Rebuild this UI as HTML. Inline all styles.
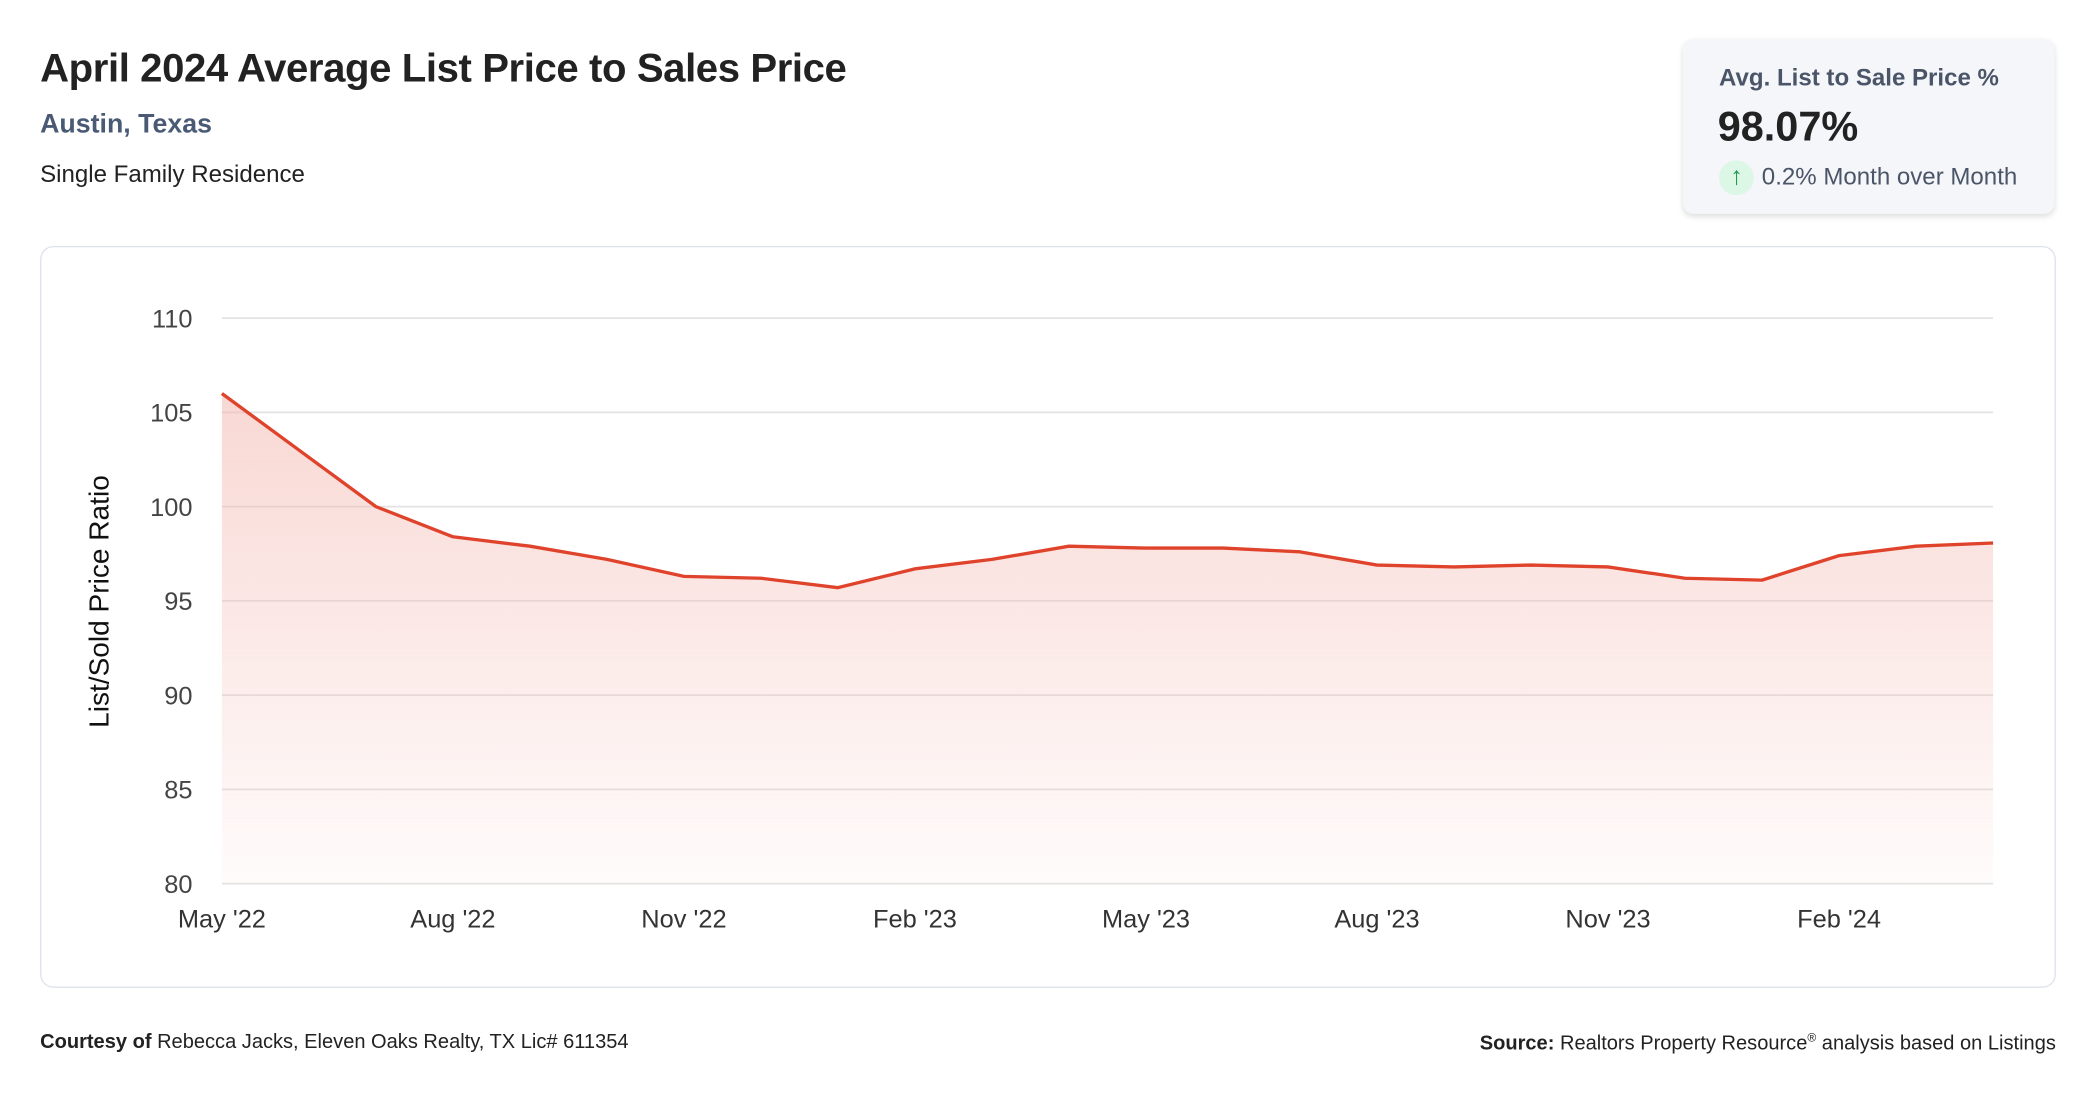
<!DOCTYPE html>
<html><head><meta charset="utf-8"><style>
html,body{margin:0;padding:0;background:#fff;width:2096px;height:1100px;overflow:hidden;}
#wrap{position:absolute;left:0;top:0;width:1568px;height:823px;transform:scale(1.33673);transform-origin:0 0;font-family:"Liberation Sans",sans-serif;}
.abs{position:absolute;white-space:nowrap;}
</style></head><body>
<div id="wrap">
<div class="abs" style="left:30px;top:35px;font-size:30px;font-weight:bold;color:#222;letter-spacing:-0.3px">April 2024 Average List Price to Sales Price</div>
<div class="abs" style="left:30px;top:82px;font-size:20px;font-weight:bold;color:#4a5a75">Austin, Texas</div>
<div class="abs" style="left:30px;top:120px;font-size:18px;color:#222">Single Family Residence</div>
<div class="abs" style="left:1259px;top:29px;width:278px;height:131px;background:#f5f6fa;border-radius:8px;box-shadow:0 2px 4px rgba(0,0,0,0.12)">
 <div class="abs" style="left:27px;top:19px;font-size:18px;font-weight:bold;color:#4a5568">Avg. List to Sale Price %</div>
 <div class="abs" style="left:26px;top:48px;font-size:31px;font-weight:bold;color:#222">98.07%</div>
 <div class="abs" style="left:27px;top:91px;width:26px;height:26px;border-radius:13px;background:#dcf7e6;color:#1f9a4f;font-size:19px;text-align:center;line-height:26px">↑</div>
 <div class="abs" style="left:59px;top:93px;font-size:18px;color:#4a5568">0.2% Month over Month</div>
</div>
<div class="abs" style="left:30px;top:184px;width:1506px;height:553px;border:1px solid #dde2ec;border-radius:10px"></div>
<svg class="abs" style="left:0;top:0" width="1568" height="823">
<defs><linearGradient id="g" x1="0" y1="0" x2="0" y2="1"><stop offset="0" stop-color="#f3b8b0" stop-opacity="0.55"/><stop offset="1" stop-color="#f3b8b0" stop-opacity="0.05"/></linearGradient></defs>
<g id="grid"></g><path id="area" fill="url(#g)"/><path id="line" fill="none" stroke="#e0432b" stroke-width="2.5" stroke-linejoin="round"/><g id="xt"></g>
<text transform="translate(81,450) rotate(-90)" text-anchor="middle" font-size="21" fill="#111" font-family="Liberation Sans, sans-serif">List/Sold Price Ratio</text>
</svg>
<div class="abs" style="left:30px;top:771px;font-size:15px;color:#222"><b>Courtesy of</b> Rebecca Jacks, Eleven Oaks Realty, TX Lic# 611354</div>
<div class="abs" style="right:30px;top:771px;font-size:15px;color:#222"><b>Source:</b> Realtors Property Resource<sup style="font-size:9px">®</sup> analysis based on Listings</div>
</div>
<script>
const values=[106.0,103.0,100.0,98.4,97.9,97.2,96.3,96.2,95.7,96.7,97.2,97.9,97.8,97.8,97.6,96.9,96.8,96.9,96.8,96.2,96.1,97.4,97.9,98.07];
const yTicks=[80,85,90,95,100,105,110];
const xLabels=["May '22","Aug '22","Nov '22","Feb '23","May '23","Aug '23","Nov '23","Feb '24"];
const xLabelIdx=[0,3,6,9,12,15,18,21];
const NS="http://www.w3.org/2000/svg";
const x0=166,x1=1491,yTop=238,yBot=661,vMin=80,vMax=110;
const X=i=>x0+(x1-x0)*i/(values.length-1);
const Y=v=>yBot-(v-vMin)/(vMax-vMin)*(yBot-yTop);
const grid=document.getElementById('grid');
yTicks.forEach(t=>{
 const l=document.createElementNS(NS,'line');
 l.setAttribute('x1',x0);l.setAttribute('x2',x1);l.setAttribute('y1',Y(t));l.setAttribute('y2',Y(t));
 l.setAttribute('stroke','#e3e3e3');l.setAttribute('stroke-width','1.3');
 
 
 grid.appendChild(l);
 const tx=document.createElementNS(NS,'text');
 tx.setAttribute('x',144);tx.setAttribute('y',Y(t)+7);tx.setAttribute('text-anchor','end');
 tx.setAttribute('font-size','19');tx.setAttribute('fill','#444');tx.setAttribute('font-family','Liberation Sans, sans-serif');
 tx.textContent=t;
 
 
 grid.appendChild(tx);
});
let d=values.map((v,i)=>(i?'L':'M')+X(i)+','+Y(v)).join(' ');
document.getElementById('line').setAttribute('d',d);
document.getElementById('area').setAttribute('d',d+' L'+X(values.length-1)+','+yBot+' L'+x0+','+yBot+' Z');
const xt=document.getElementById('xt');
xLabels.forEach((s,k)=>{
 const tx=document.createElementNS(NS,'text');
 tx.setAttribute('x',X(xLabelIdx[k]));tx.setAttribute('y',694);tx.setAttribute('text-anchor','middle');
 tx.setAttribute('font-size','19');tx.setAttribute('fill','#333');tx.setAttribute('font-family','Liberation Sans, sans-serif');
 tx.textContent=s;
 
 
 xt.appendChild(tx);
});
</script>
</body></html>
